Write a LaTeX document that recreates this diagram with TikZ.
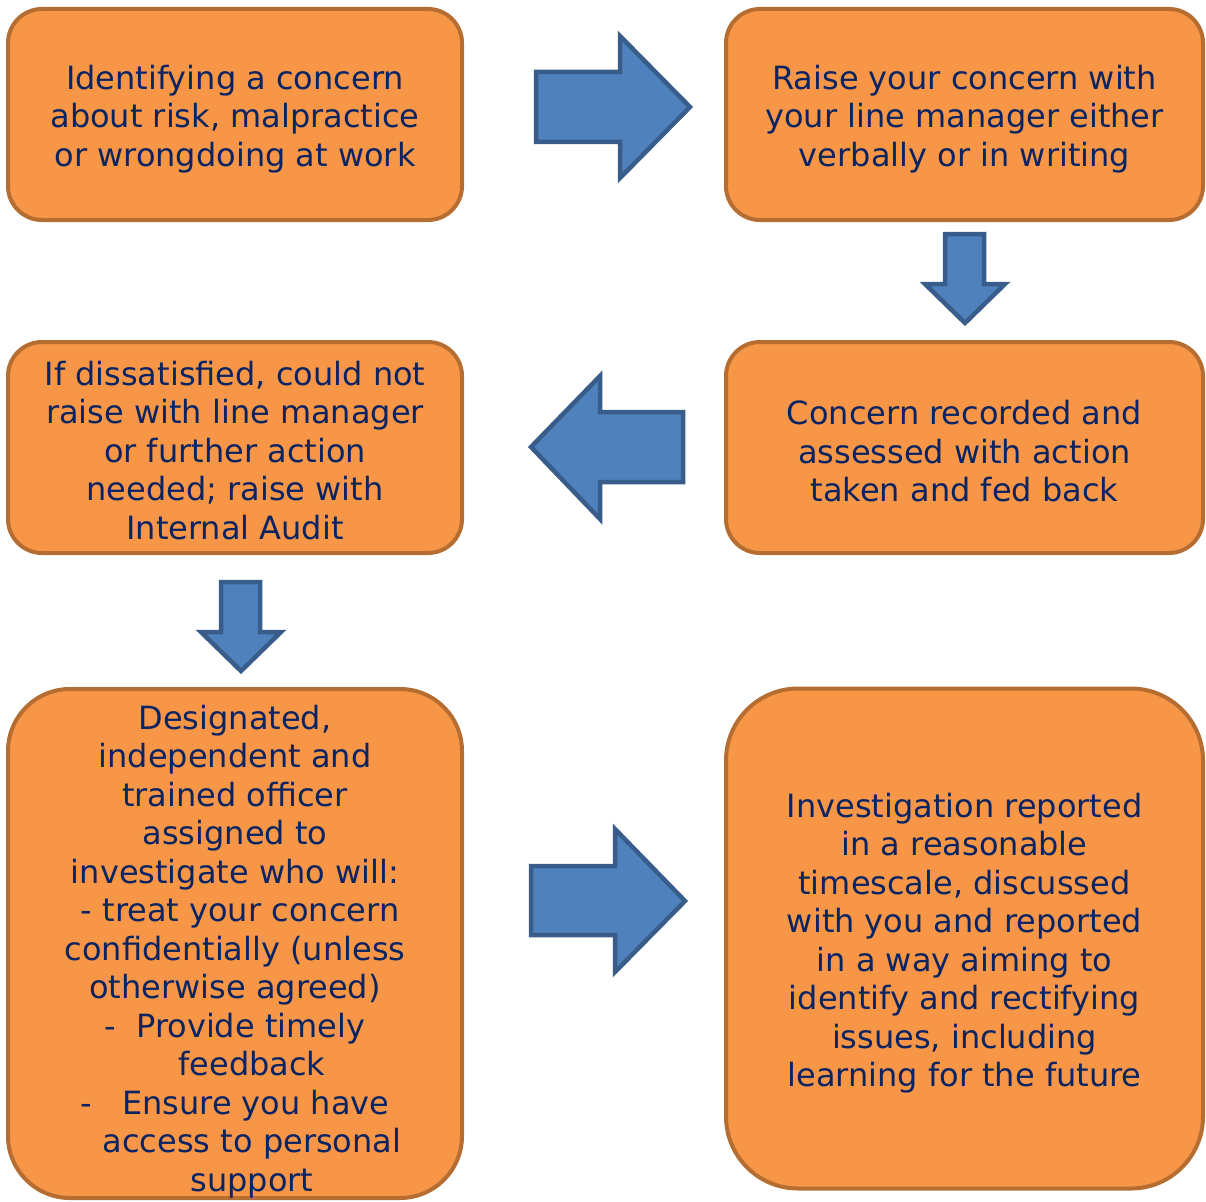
\documentclass[tikz,border=0pt]{standalone}
\usepackage{fontspec}
\setmainfont{DejaVu Sans}
\definecolor{boxfill}{HTML}{F79646}
\definecolor{boxline}{HTML}{B66D31}
\definecolor{arrfill}{HTML}{4F81BD}
\definecolor{arrline}{HTML}{385D8A}
\definecolor{navy}{HTML}{0A2463}
\newcommand{\toprule}[1]{\rule{0pt}{#1}}
\tikzset{
  box/.style={rectangle, rounded corners=34pt, draw=boxline, fill=boxfill, line width=4pt,
    text=navy, align=center, inner sep=0pt, font=\fontsize{32}{38.5}\selectfont},
  bigarrow/.style={draw=arrline, fill=arrfill, line width=4.5pt}
}
\begin{document}
\begin{tikzpicture}[x=1pt,y=-1pt]
\useasboundingbox (0,0) rectangle (1206,1201);
\node[box, minimum width=454, minimum height=211] (ident) at (235,114.5)
  {\toprule{33pt}Identifying a concern\\about risk, malpractice\\or wrongdoing at work};
\node[box, minimum width=477, minimum height=211] (raise) at (964.5,114.5)
  {\toprule{33pt}Raise your concern with\\your line manager either\\verbally or in writing};
\node[box, minimum width=477, minimum height=211] (record) at (964.5,447.5)
  {\toprule{32pt}Concern recorded and\\assessed with action\\taken and fed back};
\node[box, minimum width=454, minimum height=211] (audit) at (235,447.5)
  {\toprule{30pt}If dissatisfied, could not\\raise with line manager\\or further action\\needed; raise with\\Internal Audit};
\node[box, rounded corners=62pt, minimum width=454, minimum height=509] (officer) at (235,943.5)
  {\toprule{40pt}Designated,\\independent and\\trained officer\\assigned to\\investigate who will:\\
   \hspace*{10pt}- treat your concern\\confidentially (unless\\otherwise agreed)\\
   -\hspace*{20pt}Provide timely\\\hspace*{34pt}feedback\\
   -\hspace*{30pt}Ensure you have\\\hspace*{34pt}access to personal\\\hspace*{34pt}support};
\node[box, rounded corners=72pt, minimum width=477, minimum height=500] (report) at (964.5,938.5)
  {\toprule{34pt}Investigation reported\\in a reasonable\\timescale, discussed\\with you and reported\\in a way aiming to\\identify and rectifying\\issues, including\\learning for the future};
% block arrows
\filldraw[bigarrow] (536,72)--(620,72)--(620,36)--(690,107)--(620,178)--(620,142)--(536,142)--cycle;
\filldraw[bigarrow] (945,234)--(984,234)--(984,284)--(1005,284)--(965,323)--(925,284)--(945,284)--cycle;
\filldraw[bigarrow] (683,412)--(600,412)--(600,376)--(531,447)--(600,519)--(600,482)--(683,482)--cycle;
\filldraw[bigarrow] (221,582)--(260,582)--(260,632)--(281,632)--(241,671)--(201,632)--(221,632)--cycle;
\filldraw[bigarrow] (531,866)--(615,866)--(615,829)--(685,901)--(615,972)--(615,935)--(531,935)--cycle;
\end{tikzpicture}
\end{document}
